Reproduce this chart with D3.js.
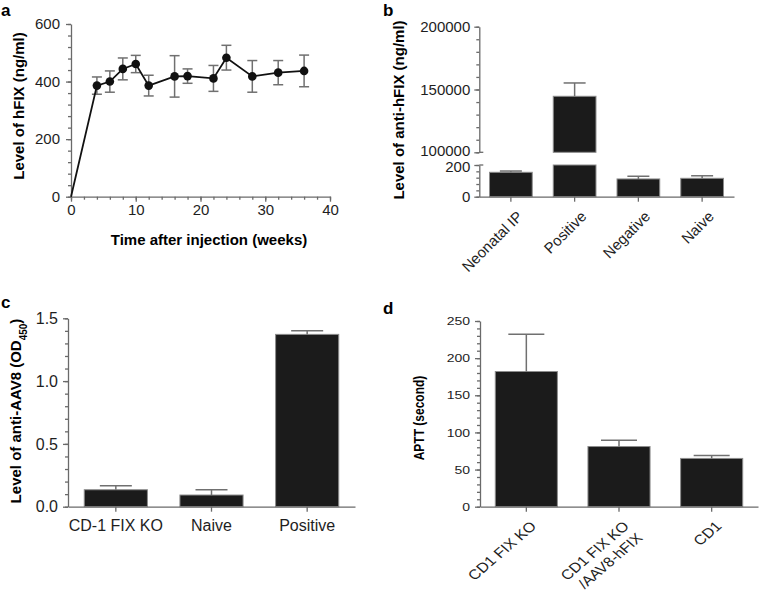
<!DOCTYPE html>
<html><head><meta charset="utf-8">
<script src="https://cdn.jsdelivr.net/npm/d3@7"></script>
<style>
body{margin:0;background:#fff}
text{font-family:"Liberation Sans",Arial,Helvetica,sans-serif}
</style></head><body>
<svg id="chart" width="760" height="603"></svg>
<script>
// ---- Panel a: hFIX level over time ----
const weeksA = [0, 4, 6, 8, 10, 12, 16, 18, 22, 24, 28, 32, 36];
const hfixA = [0, 386, 400, 444, 461, 386, 418, 419, 411, 483, 418, 431, 437];
const hfixErrA = [0, 30, 37, 38, 30, 36, 72, 25, 45, 43, 55, 42, 55];
const xTicksA = [0, 10, 20, 30, 40];
const yTicksA = [0, 200, 400, 600];

// ---- Panel b: anti-hFIX (broken axis) ----
const catsB = ["Neonatal IP", "Positive", "Negative", "Naive"];
const valsB = [154, 144600, 112, 116];
const errB = [8, 10600, 17, 16];
const yTicksBLow = [0, 200];
const yTicksBHigh = [100000, 150000, 200000];

// ---- Panel c: anti-AAV8 ----
const catsC = ["CD-1 FIX KO", "Naive", "Positive"];
const valsC = [0.135, 0.093, 1.372];
const errC = [0.032, 0.042, 0.028];
const yTicksC = [0, 0.5, 1.0, 1.5];

// ---- Panel d: APTT ----
const catsD = ["CD1 FIX KO", "CD1 FIX KO\n/AAV8-hFIX", "CD1"];
const valsD = [182, 81, 65];
const errD = [50, 8.5, 4];
const yTicksD = [0, 50, 100, 150, 200, 250];

const svg = d3.select("#chart");
const AX = "#6a6a6a", TXT = "#1e1e1e", BAR = "#1b1b1b", BAR_STROKE = "#8c8c8c", ERR = "#707070";
const FS = "15px";

function styleAxis(g) {
  g.selectAll("path,line").attr("stroke", AX).attr("stroke-width", 1.3);
  g.selectAll("text").attr("fill", TXT).style("font-size", FS).attr("font-family", null);
}
function minorAxis(parent, axisGen, transform) {
  parent.append("g").attr("transform", transform)
    .call(axisGen.tickFormat("").tickSizeOuter(0))
    .call(g => g.select(".domain").remove())
    .call(styleAxis);
}
function errBar(g, x, y0, y1, half, color) {
  g.append("line").attr("x1", x).attr("x2", x).attr("y1", y0).attr("y2", y1).attr("stroke", color).attr("stroke-width", 1.5);
  g.append("line").attr("x1", x - half).attr("x2", x + half).attr("y1", y1).attr("y2", y1).attr("stroke", color).attr("stroke-width", 1.5);
}
function panelLetter(t, x, y) {
  svg.append("text").text(t).attr("x", x).attr("y", y)
    .style("font-size", "17px").style("font-weight", "bold").attr("fill", "#000");
}
function yTitle(parts, x, y, extra) {
  const t = svg.append("text").attr("transform", `translate(${x},${y})${extra || ""} rotate(-90)`)
    .attr("text-anchor", "middle").style("font-size", FS).style("font-weight", "bold").attr("fill", "#000");
  parts.forEach(p => {
    const ts = t.append("tspan").text(p.t);
    if (p.sub) ts.attr("baseline-shift", "sub").style("font-size", "10px");
  });
  return t;
}

// ================= Panel a =================
{
  const x = d3.scaleLinear().domain([0, 40]).range([71, 330]);
  const y = d3.scaleLinear().domain([0, 600]).range([196.7, 24]);
  const g = svg.append("g");
  g.append("g").attr("transform", `translate(0,${y(0)})`)
    .call(d3.axisBottom(x).tickValues(xTicksA).tickSize(5).tickPadding(3).tickSizeOuter(0)).call(styleAxis);
  minorAxis(g, d3.axisBottom(x).tickValues(d3.range(0, 41, 2)).tickSize(3), `translate(0,${y(0)})`);
  g.append("g").attr("transform", `translate(${x(0)},0)`)
    .call(d3.axisLeft(y).tickValues(yTicksA).tickSize(5).tickPadding(6).tickSizeOuter(0)).call(styleAxis);
  minorAxis(g, d3.axisLeft(y).tickValues(d3.range(0, 601, 40)).tickSize(3), `translate(${x(0)},0)`);

  const pts = weeksA.map((w, i) => ({ w, v: hfixA[i], e: hfixErrA[i] }));
  pts.forEach(p => {
    if (p.e > 0) {
      const cx = x(p.w);
      g.append("line").attr("x1", cx).attr("x2", cx).attr("y1", y(p.v - p.e)).attr("y2", y(p.v + p.e)).attr("stroke", ERR).attr("stroke-width", 1.5);
      [p.v - p.e, p.v + p.e].forEach(v => g.append("line").attr("x1", cx - 5).attr("x2", cx + 5).attr("y1", y(v)).attr("y2", y(v)).attr("stroke", ERR).attr("stroke-width", 1.5));
    }
  });
  g.append("path").datum(pts).attr("fill", "none").attr("stroke", "#111").attr("stroke-width", 1.8)
    .attr("d", d3.line().x(d => x(d.w)).y(d => y(d.v)));
  g.selectAll("circle").data(pts.filter(p => p.w > 0)).join("circle")
    .attr("cx", d => x(d.w)).attr("cy", d => y(d.v)).attr("r", 4.3).attr("fill", "#111");

  yTitle([{ t: "Level of hFIX (ng/ml)" }], 24, 106);
  svg.append("text").attr("x", 209).attr("y", 245).attr("text-anchor", "middle")
    .style("font-size", FS).style("font-weight", "bold").attr("fill", "#000").text("Time after injection (weeks)");
  panelLetter("a", 1, 16);
}

// ================= Panel b =================
{
  const x = d3.scaleBand().domain(catsB).range([479, 734]).paddingInner(0.33).paddingOuter(0.165);
  const yL = d3.scaleLinear().domain([0, 200]).range([196.7, 165]);
  const yH = d3.scaleLinear().domain([100000, 200000]).range([152.3, 26.7]);
  const g = svg.append("g");
  const x0 = 479.3;
  catsB.forEach((c, i) => {
    const v = valsB[i], e = errB[i];
    const lowTop = Math.min(v, 200);
    g.append("rect").attr("x", x(c)).attr("width", x.bandwidth()).attr("y", yL(lowTop)).attr("height", yL(0) - yL(lowTop))
      .attr("fill", BAR).attr("stroke", BAR_STROKE).attr("stroke-width", 1);
    if (v > 200) {
      g.append("rect").attr("x", x(c)).attr("width", x.bandwidth()).attr("y", yH(v)).attr("height", yH(100000) - yH(v))
        .attr("fill", BAR).attr("stroke", BAR_STROKE).attr("stroke-width", 1);
      errBar(g, x(c) + x.bandwidth() / 2, yH(v), yH(v + e), 11, ERR);
    } else {
      errBar(g, x(c) + x.bandwidth() / 2, yL(v), yL(v + e), 11, ERR);
    }
  });
  const xa = g.append("g").attr("transform", `translate(0,${yL(0)})`)
    .call(d3.axisBottom(x).tickSize(5).tickSizeOuter(0)).call(styleAxis);
  xa.selectAll(".tick text").attr("y", 0).attr("dy", "0.35em").attr("x", 0)
    .attr("text-anchor", "end").attr("transform", "translate(9,17) rotate(-45)");
  const ha = g.append("g").attr("transform", `translate(${x0},0)`)
    .call(d3.axisLeft(yH).tickValues(yTicksBHigh).tickFormat(d3.format("d")).tickSize(5).tickPadding(4).tickSizeOuter(0)).call(styleAxis);
  ha.selectAll(".tick text").filter(d => d === 100000).attr("dy", "0.2em");
  minorAxis(g, d3.axisLeft(yH).tickValues(d3.range(100000, 200001, 10000)).tickSize(3), `translate(${x0},0)`);
  const la = g.append("g").attr("transform", `translate(${x0},0)`)
    .call(d3.axisLeft(yL).tickValues(yTicksBLow).tickSize(5).tickPadding(4).tickSizeOuter(0)).call(styleAxis);
  la.selectAll(".tick text").filter(d => d === 200).attr("dy", "0.45em");
  minorAxis(g, d3.axisLeft(yL).tickValues(d3.range(0, 201, 40)).tickSize(3), `translate(${x0},0)`);
  [yH(100000), yL(200)].forEach(yy => g.append("line").attr("x1", x0).attr("x2", x0 + 4).attr("y1", yy).attr("y2", yy).attr("stroke", AX).attr("stroke-width", 1.3));

  yTitle([{ t: "Level of anti-hFIX (ng/ml)" }], 404, 110);
  panelLetter("b", 383, 16);
}

// ================= Panel c =================
{
  const x = d3.scaleBand().domain(catsC).range([68, 355]).paddingInner(0.34).paddingOuter(0.17);
  const y = d3.scaleLinear().domain([0, 1.5]).range([506.7, 318.3]);
  const g = svg.append("g");
  catsC.forEach((c, i) => {
    g.append("rect").attr("x", x(c)).attr("width", x.bandwidth()).attr("y", y(valsC[i])).attr("height", y(0) - y(valsC[i]))
      .attr("fill", BAR).attr("stroke", BAR_STROKE).attr("stroke-width", 1);
    errBar(g, x(c) + x.bandwidth() / 2, y(valsC[i]), y(valsC[i] + errC[i]), 16, ERR);
  });
  g.append("g").attr("transform", `translate(0,${y(0)})`)
    .call(d3.axisBottom(x).tickSize(5).tickPadding(8).tickSizeOuter(0)).call(styleAxis)
    .selectAll(".tick text").style("font-size", "16px");
  g.append("g").attr("transform", `translate(68,0)`)
    .call(d3.axisLeft(y).tickValues(yTicksC).tickFormat(d3.format(".1f")).tickSize(5).tickPadding(5).tickSizeOuter(0)).call(styleAxis)
    .selectAll(".tick text").style("font-size", "16px");
  minorAxis(g, d3.axisLeft(y).tickValues(d3.range(0, 1.51, 0.1)).tickSize(3), `translate(68,0)`);

  yTitle([{ t: "Level of anti-AAV8 (OD" }, { t: "450", sub: true }, { t: ")" }], 21, 411);
  panelLetter("c", 1, 308);
}

// ================= Panel d (vertically squeezed like the reference) =================
{
  const SQ = 0.8;
  const x = d3.scaleBand().domain(catsD).range([480, 758]).paddingInner(0.33).paddingOuter(0.165);
  const y = d3.scaleLinear().domain([0, 250]).range([506.7, 321]);
  const g = svg.append("g");
  catsD.forEach((c, i) => {
    g.append("rect").attr("x", x(c)).attr("width", x.bandwidth()).attr("y", y(valsD[i])).attr("height", y(0) - y(valsD[i]))
      .attr("fill", BAR).attr("stroke", BAR_STROKE).attr("stroke-width", 1);
    errBar(g, x(c) + x.bandwidth() / 2, y(valsD[i]), y(valsD[i] + errD[i]), 18, ERR);
  });
  const xa = g.append("g").attr("transform", `translate(0,${y(0)})`)
    .call(d3.axisBottom(x).tickSize(5).tickSizeOuter(0)).call(styleAxis);
  xa.selectAll(".tick text").each(function (d) {
    const t = d3.select(this);
    t.text(null).attr("y", 0).attr("x", 0).attr("dy", null).style("font-size", "16px")
      .attr("text-anchor", "end").attr("transform", `translate(7,17) scale(1,0.86) rotate(-45)`);
    d.split("\n").forEach((line, k) => {
      t.append("tspan").attr("x", 0).attr("dy", k === 0 ? "0.35em" : "1.2em").text(line);
    });
  });
  const ya = g.append("g").attr("transform", `translate(480,0)`)
    .call(d3.axisLeft(y).tickValues(yTicksD).tickSize(5).tickPadding(5).tickSizeOuter(0)).call(styleAxis);
  ya.selectAll(".tick text").style("font-size", "14px").attr("transform", `scale(1,${SQ})`);
  minorAxis(g, d3.axisLeft(y).tickValues(d3.range(0, 251, 10)).tickSize(3), `translate(480,0)`);

  yTitle([{ t: "APTT (second)" }], 424, 418, ` scale(1,${SQ})`);
  panelLetter("d", 383, 314);
}
</script>
</body></html>
